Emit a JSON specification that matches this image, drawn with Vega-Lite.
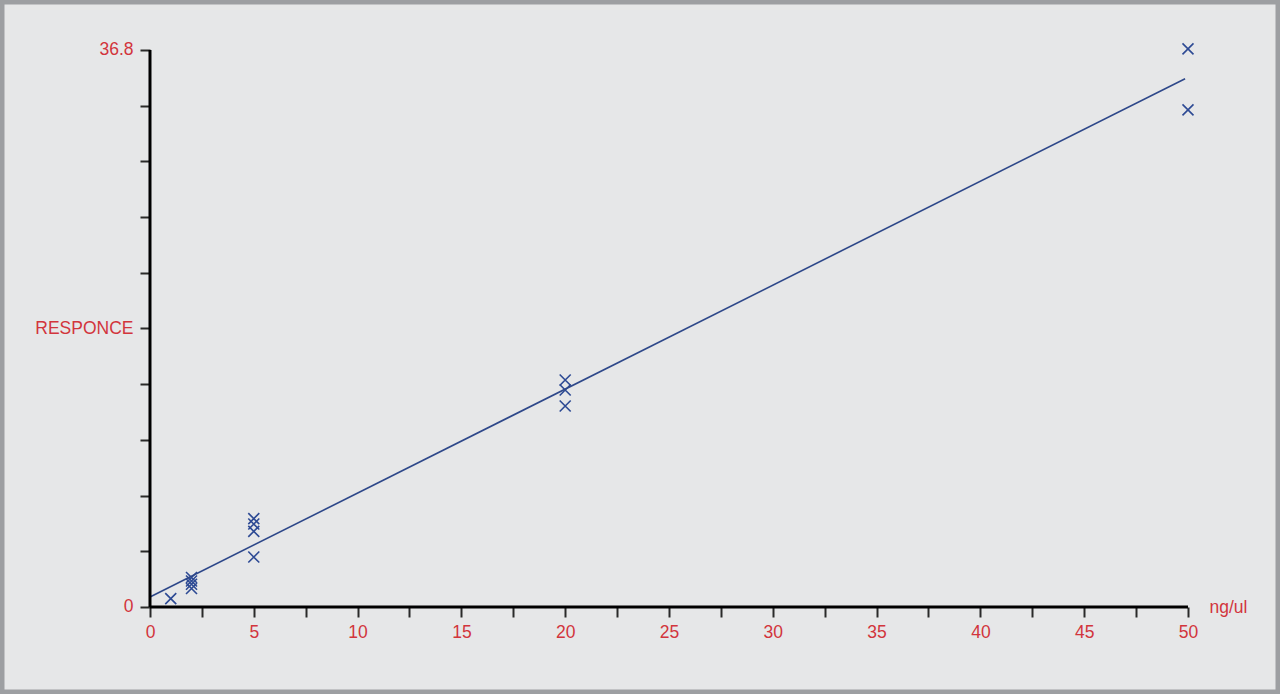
{
  "$schema": "https://vega.github.io/schema/vega-lite/v6.json",
  "description": "Calibration curve: response vs concentration (ng/ul).",
  "width": 1280,
  "height": 694,
  "padding": 0,
  "autosize": {"type": "none"},
  "background": "#e6e7e8",
  "datasets": {
    "points": [
      {"conc": 1, "response": 0.55},
      {"conc": 2, "response": 1.95},
      {"conc": 2, "response": 1.72},
      {"conc": 2, "response": 1.5},
      {"conc": 2, "response": 1.22},
      {"conc": 5, "response": 5.84},
      {"conc": 5, "response": 5.48},
      {"conc": 5, "response": 5.0},
      {"conc": 5, "response": 3.3},
      {"conc": 20, "response": 15.0},
      {"conc": 20, "response": 14.34},
      {"conc": 20, "response": 13.28},
      {"conc": 50, "response": 36.87},
      {"conc": 50, "response": 32.84}
    ],
    "fit": [
      {"conc": 0, "response": 0.66},
      {"conc": 49.86, "response": 34.9}
    ]
  },
  "layer": [
    {
      "data": {"name": "points"},
      "mark": {
        "type": "point",
        "shape": "M-1,-1L1,1M1,-1L-1,1",
        "filled": false,
        "size": 121,
        "color": "#2d4a94",
        "strokeWidth": 1.6,
        "opacity": 1
      },
      "encoding": {
        "x": {
          "field": "conc",
          "type": "quantitative",
          "scale": {"domain": [-7.225, 54.432], "nice": false, "zero": false},
          "axis": {
            "orient": "bottom",
            "offset": -87,
            "values": [0, 2.5, 5, 7.5, 10, 12.5, 15, 17.5, 20, 22.5, 25, 27.5, 30, 32.5, 35, 37.5, 40, 42.5, 45, 47.5, 50],
            "labelExpr": "datum.value % 5 == 0 ? format(datum.value, 'd') : ''",
            "labelPadding": 6,
            "title": "ng/ul",
            "titleX": 1228,
            "titleY": 0,
            "titleAlign": "center",
            "titleBaseline": "middle",
            "titleAngle": 0
          }
        },
        "y": {
          "field": "response",
          "type": "quantitative",
          "scale": {"domain": [-5.748, 40.103], "nice": false, "zero": false},
          "axis": {
            "orient": "left",
            "offset": -150,
            "values": [0, 3.68, 7.36, 11.04, 14.72, 18.4, 22.08, 25.76, 29.44, 33.12, 36.8],
            "labelExpr": "datum.value == 0 ? '0' : datum.value == 18.4 ? 'RESPONCE' : datum.value == 36.8 ? '36.8' : ''",
            "labelPadding": 7,
            "title": null
          }
        }
      }
    },
    {
      "data": {"name": "fit"},
      "mark": {"type": "line", "color": "#2d4789", "strokeWidth": 1.6},
      "encoding": {
        "x": {"field": "conc", "type": "quantitative"},
        "y": {"field": "response", "type": "quantitative"}
      }
    },
    {
      "data": {"values": [{"axis": "x"}]},
      "mark": {"type": "rule", "color": "#000000", "strokeWidth": 3},
      "encoding": {
        "x": {"datum": 0, "type": "quantitative"},
        "x2": {"datum": 50},
        "y": {"datum": 0, "type": "quantitative"}
      }
    },
    {
      "data": {"values": [{"axis": "y"}]},
      "mark": {"type": "rule", "color": "#000000", "strokeWidth": 3},
      "encoding": {
        "x": {"datum": 0, "type": "quantitative"},
        "y": {"datum": 0, "type": "quantitative"},
        "y2": {"datum": 36.8}
      }
    }
  ],
  "config": {
    "view": {"stroke": "#9d9fa2", "strokeWidth": 9},
    "axis": {
      "domain": false,
      "grid": false,
      "ticks": true,
      "tickSize": 10,
      "tickColor": "#2a2a2a",
      "tickWidth": 2,
      "labelFont": "Liberation Sans",
      "labelFontSize": 17.5,
      "labelColor": "#d2353c",
      "labelOverlap": false,
      "labelFlush": false,
      "labelBound": false,
      "titleFont": "Liberation Sans",
      "titleFontSize": 17.5,
      "titleFontWeight": "normal",
      "titleColor": "#d2353c"
    }
  }
}
